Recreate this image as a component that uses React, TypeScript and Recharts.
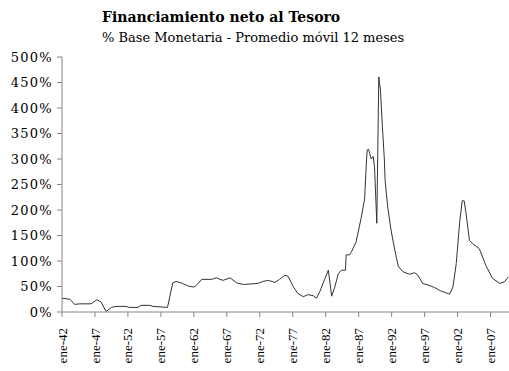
import { LineChart, Line, XAxis, YAxis } from "recharts";

// años (fracción decimal) y valores en % de la base monetaria
const years = [
  1942.0, 1943.2, 1943.9, 1944.7, 1946.4, 1947.3, 1947.9, 1948.7, 1949.5, 1950.2,
  1951.7, 1952.2, 1953.5, 1954.0, 1955.3, 1955.8, 1958.0, 1958.8, 1959.3, 1960.3,
  1961.1, 1961.9, 1962.2, 1963.2, 1964.7, 1965.4, 1966.4, 1967.5, 1968.5, 1969.5,
  1971.7, 1972.5, 1973.3, 1974.3, 1975.0, 1975.8, 1976.3, 1977.1, 1977.8, 1978.6,
  1979.3, 1980.1, 1980.6, 1981.1, 1981.8, 1982.4, 1982.9, 1983.4, 1983.9, 1984.4,
  1985.0, 1985.1, 1985.6, 1985.9, 1986.6, 1987.4, 1987.9, 1988.2, 1988.3, 1988.5,
  1988.7, 1988.9, 1989.2, 1989.4, 1989.75, 1990.05, 1990.3, 1990.6, 1990.9, 1991.0,
  1991.4, 1991.9, 1992.5, 1993.0, 1993.7, 1994.7, 1995.5, 1996.0, 1996.7, 1997.5,
  1998.5, 1999.5, 2000.8, 2001.3, 2001.8, 2002.3, 2002.7, 2003.0, 2003.3, 2003.8,
  2004.3, 2005.3, 2006.3, 2007.3, 2008.4, 2009.1, 2009.7,
];
const values = [
  27, 25, 15, 16, 16, 24, 20, 1, 9, 11,
  11, 9, 9, 13, 13, 11, 9, 57, 60, 56,
  51, 49, 50, 64, 64, 67, 62, 67, 57, 54,
  56, 60, 62, 58, 64, 72, 70, 49, 36, 30,
  34, 32, 27, 40, 63, 82, 31, 50, 75, 82,
  82, 112, 112, 118, 137, 186, 222, 300, 318, 319,
  310, 300, 305, 285, 174, 461, 435, 363, 298, 259,
  206, 161, 120, 90, 79, 74, 77, 72, 56, 53,
  48, 41, 35, 49, 95, 174, 218, 218, 192, 140,
  134, 124, 91, 66, 56, 59, 69,
];
const xTicks = [1942, 1947, 1952, 1957, 1962, 1967, 1972, 1977, 1982, 1987, 1992, 1997, 2002, 2007];
const yTicks = [0, 50, 100, 150, 200, 250, 300, 350, 400, 450, 500];

const data = years.map((t, i) => ({ t, v: values[i] }));

const axisColor = "#868686";

function XTick(props: any) {
  const { x, y, payload } = props;
  const yy = y + 11;
  const label = "ene-" + String(payload.value % 100).padStart(2, "0");
  return (
    <text
      x={x}
      y={yy}
      dy="0.35em"
      textAnchor="end"
      transform={`rotate(-90, ${x}, ${yy})`}
      fontFamily="'Liberation Serif', serif"
      fontSize={13}
      fill="#000"
    >
      {label}
    </text>
  );
}

export default function App() {
  return (
    <div style={{ position: "relative", width: 509, height: 371, background: "#fff" }}>
      <style>{`body{margin:0}`}</style>
      <div
        style={{
          position: "absolute",
          left: 102,
          top: 9,
          fontFamily: "'DejaVu Serif', serif",
          fontWeight: "bold",
          fontSize: 14,
          lineHeight: "16px",
          whiteSpace: "nowrap",
        }}
      >
        Financiamiento neto al Tesoro
      </div>
      <div
        style={{
          position: "absolute",
          left: 102,
          top: 30,
          fontFamily: "'DejaVu Serif', serif",
          fontSize: 13,
          lineHeight: "15px",
          whiteSpace: "nowrap",
        }}
      >
        % Base Monetaria - Promedio móvil 12 meses
      </div>
      <LineChart
        width={509}
        height={371}
        data={data}
        margin={{ top: 57, right: 0, bottom: 0, left: 0 }}
      >
        <XAxis
          dataKey="t"
          type="number"
          domain={[1942, 2009.8]}
          ticks={xTicks}
          interval={0}
          height={59}
          tickSize={5}
          tickMargin={0}
          stroke={axisColor}
          tickLine={{ stroke: axisColor }}
          tick={<XTick />}
        />
        <YAxis
          type="number"
          domain={[0, 500]}
          ticks={yTicks}
          interval={0}
          width={62}
          tickSize={5}
          tickMargin={4}
          stroke={axisColor}
          tickLine={{ stroke: axisColor }}
          tickFormatter={(v: number) => v + "%"}
          tick={{ fontFamily: "'DejaVu Serif', serif", fontSize: 13, letterSpacing: 1.3, fill: "#000" }}
        />
        <Line
          type="linear"
          dataKey="v"
          stroke="#333"
          strokeWidth={1}
          dot={false}
          isAnimationActive={false}
        />
      </LineChart>
    </div>
  );
}
